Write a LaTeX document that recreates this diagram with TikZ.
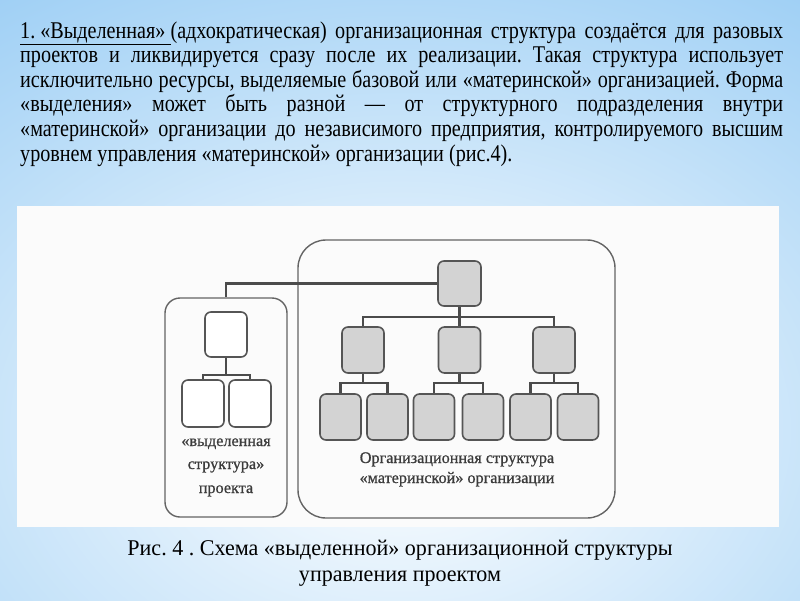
\documentclass[tikz,border=0pt]{standalone}
\usepackage{fontspec}
\setmainfont{Liberation Serif}
\newfontfamily\condfont[FakeStretch=0.84]{Liberation Serif}
\newfontfamily\capfont[FakeStretch=0.98]{Liberation Serif}
\newfontfamily\diagfont[FakeBold=0.8]{Liberation Serif}
\frenchspacing
\definecolor{bgblue}{RGB}{160,208,245}
\definecolor{picwhite}{RGB}{251,251,251}
\definecolor{nodegrey}{RGB}{211,211,211}
\definecolor{boxline}{RGB}{85,85,85}
\definecolor{linecol}{RGB}{75,75,75}
\definecolor{framecol}{RGB}{100,100,100}
\definecolor{diagtext}{RGB}{60,60,60}
\tikzset{
  orgbox/.style={draw=boxline, fill=nodegrey, line width=1.6pt, rounded corners=6pt,
    minimum width=41pt, minimum height=46pt, inner sep=0pt},
  projnode/.style={orgbox, fill=white},
  link/.style={draw=linecol, line width=2.8pt},
  frame/.style={draw=framecol, line width=1.4pt, inner sep=0pt},
  bodyline/.style={anchor=base west, inner sep=0pt, font=\condfont\frenchspacing\fontsize{24}{28}\selectfont},
  captext/.style={anchor=base, inner sep=0pt, font=\capfont\fontsize{22.5}{26}\selectfont},
  diagtxt/.style={anchor=base, inner sep=0pt, text=diagtext, font=\diagfont\fontsize{16.2}{19}\selectfont}
}
\begin{document}
\begin{tikzpicture}[x=1pt,y=-1pt]
\useasboundingbox (0,0) rectangle (800,600);
\fill[bgblue] (0,0) rectangle (800,600);
\begin{scope}
\clip (0,0) rectangle (800,600);
\shade[inner color=white, outer color=bgblue] (400,430) ellipse [x radius=720pt, y radius=520pt];
\end{scope}
% paragraph
\node[bodyline] (t1) at (20,38) {\makebox[763pt][s]{\underline{1. «Выделенная» }(адхократическая) организационная структура создаётся для разовых}};
\node[bodyline] (t2) at (20,62.6) {\makebox[763pt][s]{проектов и ликвидируется сразу после их реализации. Такая структура использует}};
\node[bodyline] (t3) at (20,87.2) {\makebox[763pt][s]{исключительно ресурсы, выделяемые базовой или «материнской» организацией. Форма}};
\node[bodyline] (t4) at (20,111.8) {\makebox[763pt][s]{«выделения» может быть разной — от структурного подразделения внутри}};
\node[bodyline] (t5) at (20,136.4) {\makebox[763pt][s]{«материнской» организации до независимого предприятия, контролируемого высшим}};
\node[bodyline] (t6) at (20,161) {уровнем управления «материнской» организации (рис.4).};
% picture background
\fill[picwhite] (17,206) rectangle (779,527);
% frames
\node[frame, rounded corners=28pt, minimum width=317pt, minimum height=278pt] (mother) at (456.5,379) {};
\node[frame, rounded corners=15pt, minimum width=122pt, minimum height=219pt] (proj) at (226,407.5) {};
% nodes
\node[orgbox, minimum width=43pt, minimum height=45pt] (top) at (459.5,283.5) {};
\node[orgbox, minimum width=42pt] (m1) at (363,350) {};
\node[orgbox, minimum width=42pt] (m2) at (459.5,350) {};
\node[orgbox, minimum width=42pt] (m3) at (554,350) {};
\node[orgbox] (b1) at (340.5,417) {};
\node[orgbox] (b2) at (387.5,417) {};
\node[orgbox] (b3) at (434,417) {};
\node[orgbox] (b4) at (483,417) {};
\node[orgbox] (b5) at (530.5,417) {};
\node[orgbox] (b6) at (578,417) {};
\node[projnode, minimum width=42pt, minimum height=45pt] (lt) at (226,334.5) {};
\node[projnode, minimum width=42pt, minimum height=47pt] (l1) at (203,403.5) {};
\node[projnode, minimum width=42pt, minimum height=47pt] (l2) at (250,403.5) {};
% connectors
\coordinate (busm) at (459.5,317);
\coordinate (bus1) at (363,383);
\coordinate (bus2) at (459.5,383);
\coordinate (bus3) at (554,383);
\coordinate (busl) at (226,375);
\draw[link] (top.west) -| (proj.north);
\draw[link] (top.south) -- (m2.north);
\draw[link] (m1.north) |- (busm) -| (m3.north);
\draw[link] (m1.south) -- (bus1);
\draw[link] (b1.north) |- (bus1) -| (b2.north);
\draw[link] (m2.south) -- (bus2);
\draw[link] (b3.north) |- (bus2) -| (b4.north);
\draw[link] (m3.south) -- (bus3);
\draw[link] (b5.north) |- (bus3) -| (b6.north);
\draw[link] (lt.south) -- (busl);
\draw[link] (l1.north) |- (busl) -| (l2.north);
% diagram texts
\node[diagtxt] (mt1) at (457,463) {Организационная структура};
\node[diagtxt] (mt2) at (457,483) {«материнской» организации};
\node[diagtxt] (pt1) at (226,446) {«выделенная};
\node[diagtxt] (pt2) at (226,469) {структура»};
\node[diagtxt] (pt3) at (226,493) {проекта};
% caption
\node[captext] (c1) at (400,555) {Рис. 4 . Схема «выделенной» организационной структуры};
\node[captext] (c2) at (400,581) {управления проектом};
\end{tikzpicture}
\end{document}
